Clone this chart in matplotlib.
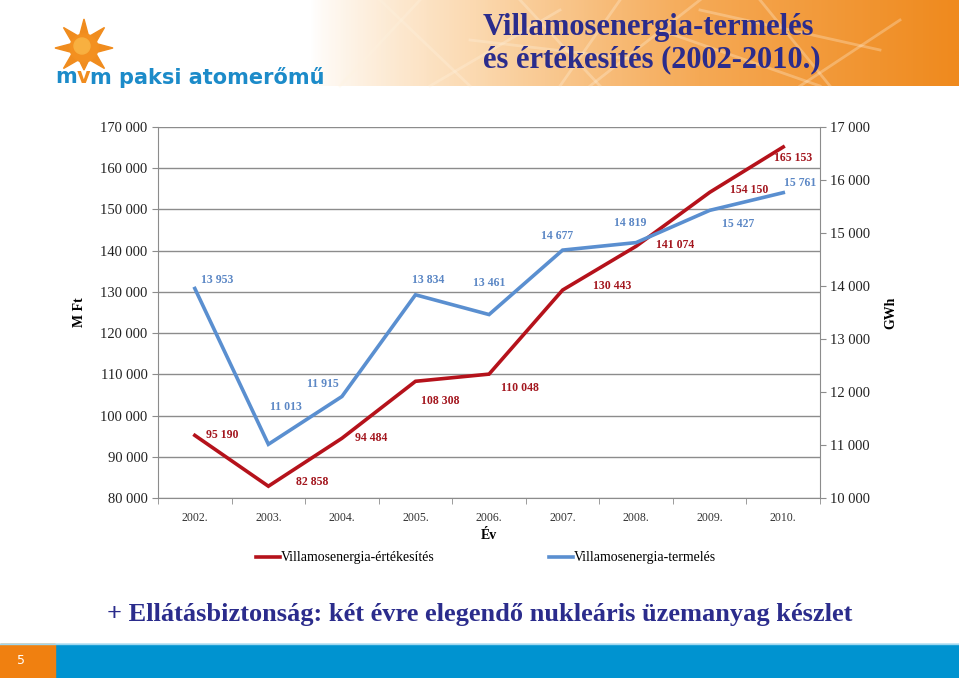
import matplotlib
matplotlib.use("Agg")
import matplotlib.pyplot as plt
import numpy as np
from matplotlib.patches import Rectangle, Circle, Polygon

# data
years = ["2002.", "2003.", "2004.", "2005.", "2006.", "2007.", "2008.", "2009.", "2010."]
sales_mft = [95190, 82858, 94484, 108308, 110048, 130443, 141074, 154150, 165153]
prod_gwh = [13953, 11013, 11915, 13834, 13461, 14677, 14819, 15427, 15761]

# label offsets (pixels) relative to each point
sales_off = [(27, 0), (44, 4), (29, 0), (25, -20), (31, -14), (50, 4), (39, 1), (39, 2), (10, -11)]
prod_off = [(22, 8), (18, 37), (-19, 12), (13, 15), (0, 32), (-6, 14), (-6, 20), (28, -14), (17, 10)]

RED = "#B5121B"
RED_TXT = "#A3161E"
BLUE = "#5A8FD0"
BLUE_TXT = "#5B87C5"
NAVY = "#2B2C8C"
LOGO_BLUE = "#1C8BC9"
SERIF = ["Liberation Serif", "DejaVu Serif"]


def fmt(v):
    return f"{v:,}".replace(",", " ")


fig = plt.figure(figsize=(9.59, 6.78), dpi=100)

# decoration layer in pixel coordinates
bg = fig.add_axes([0, 0, 1, 1], zorder=0)
bg.set_xlim(0, 959)
bg.set_ylim(678, 0)
bg.axis("off")

# header gradient band
grad = np.linspace(0, 1, 256)
cmap = matplotlib.colors.LinearSegmentedColormap.from_list(
    "hdr", ["#FFFFFF", "#FBD9B0", "#F5A955", "#EF8A1E"])
bg.imshow(grad[None, :] ** 0.8, extent=(310, 959, 86, 0), aspect="auto", cmap=cmap, zorder=0)
for x0, y0, x1, y1 in [(340, 86, 420, 0), (380, 0, 470, 86), (430, 86, 560, 10),
                       (520, 0, 600, 86), (590, 86, 700, 0), (660, 30, 820, 86),
                       (760, 0, 830, 86), (800, 86, 900, 20), (470, 40, 640, 60),
                       (700, 10, 880, 50), (560, 86, 620, 0)]:
    bg.plot([x0, x1], [y0, y1], color="#FFF3E0", alpha=0.3, lw=2, zorder=1)

# sun logo
cx, cy = 84, 48
for k in range(8):
    a = np.pi / 2 + k * np.pi / 4
    rl = 22 if k == 4 else 29
    tip = (cx + rl * np.cos(a), cy - rl * np.sin(a))
    l = (cx + 14 * np.cos(a - 0.3), cy - 14 * np.sin(a - 0.3))
    r = (cx + 14 * np.cos(a + 0.3), cy - 14 * np.sin(a + 0.3))
    bg.add_patch(Polygon([tip, l, r], closed=True, color="#F08C1E", zorder=2))
bg.add_patch(Circle((cx, cy), 14, color="#F39020", zorder=3))
bg.add_patch(Circle((cx - 2, cy - 2), 8, color="#F8B040", zorder=3))

# logo text, pieces laid out one after another
fig.canvas.draw()
renderer = fig.canvas.get_renderer()
xpos = 55
for piece, col in [("m", LOGO_BLUE), ("v", "#F08C1E"), ("m paksi atomerőmű", LOGO_BLUE)]:
    t = bg.text(xpos, 77, piece, color=col, fontsize=15, fontweight="bold",
                family="DejaVu Sans", va="center", ha="left", zorder=4)
    bb = t.get_window_extent(renderer)
    xpos += bb.width

# header title
bg.text(483, 27, "Villamosenergia-termelés", color=NAVY, fontsize=22,
        fontweight="bold", family=SERIF, va="center", ha="left", zorder=4)
bg.text(483, 60, "és értékesítés (2002-2010.)", color=NAVY, fontsize=22,
        fontweight="bold", family=SERIF, va="center", ha="left", zorder=4)

# bottom text and band
bg.text(480, 614, "+ Ellátásbiztonság: két évre elegendő nukleáris üzemanyag készlet",
        color=NAVY, fontsize=19, fontweight="bold", family=SERIF,
        va="center", ha="center", zorder=4)
bg.add_patch(Rectangle((0, 644), 959, 34, color="#0093D0", zorder=2))
bg.add_patch(Rectangle((0, 644), 55, 34, color="#F08010", zorder=3))
bg.plot([0, 959], [644, 644], color="#9FD8F0", lw=1, zorder=3)
bg.text(21, 661, "5", color="white", fontsize=9, va="center", ha="center", zorder=4)

# main chart
ax = fig.add_axes([0.1648, 0.2655, 0.6903, 0.5472], zorder=2)
ax.patch.set_alpha(0)
x = np.arange(len(years))
ax.plot(x, sales_mft, color=RED, lw=2.6, solid_joinstyle="miter", zorder=3,
        label="Villamosenergia-értékesítés")
ax.set_ylim(80000, 170000)
ax.set_xlim(-0.5, len(years) - 0.5)
ax.set_yticks(np.arange(80000, 170001, 10000))
ax.set_yticklabels([fmt(v) for v in range(80000, 170001, 10000)],
                   family=SERIF, fontsize=10.5, color="#222222")
ax.yaxis.grid(True, color="#8C8C8C", lw=1)
ax.set_axisbelow(True)
ax.set_xticks(x)
ax.set_xticklabels(years, family=SERIF, fontsize=8.5, color="#333333")
ax.set_xticks(np.arange(-0.5, len(years)), minor=True)
ax.tick_params(axis="x", which="major", length=0, pad=10)
ax.tick_params(axis="x", which="minor", length=4, color="#8C8C8C", direction="out")
ax.tick_params(axis="y", length=4, color="#8C8C8C", direction="out")
for s in ["top", "right"]:
    ax.spines[s].set_visible(False)
for s in ["left", "bottom"]:
    ax.spines[s].set_color("#8C8C8C")
ax.set_ylabel("M Ft", family=SERIF, fontsize=10, fontweight="bold", labelpad=10)
ax.set_xlabel("Év", family=SERIF, fontsize=10, fontweight="bold", labelpad=4)

for xi, v, (dx, dy) in zip(x, sales_mft, sales_off):
    ax.annotate(fmt(v), (xi, v), xytext=(dx, dy), textcoords="offset pixels",
                ha="center", va="center", fontsize=8.5, fontweight="bold",
                family=SERIF, color=RED_TXT, zorder=5)

ax2 = ax.twinx()
ax2.plot(x, prod_gwh, color=BLUE, lw=2.6, solid_joinstyle="miter", zorder=3,
         label="Villamosenergia-termelés")
ax2.set_ylim(10000, 17000)
ax2.set_yticks(np.arange(10000, 17001, 1000))
ax2.set_yticklabels([fmt(v) for v in range(10000, 17001, 1000)],
                    family=SERIF, fontsize=10.5, color="#222222")
ax2.tick_params(axis="y", length=4, color="#8C8C8C", direction="out")
for s in ["top", "left", "bottom"]:
    ax2.spines[s].set_visible(False)
ax2.spines["right"].set_color("#8C8C8C")
ax2.set_ylabel("GWh", family=SERIF, fontsize=10, fontweight="bold", labelpad=10)

for xi, v, (dx, dy) in zip(x, prod_gwh, prod_off):
    ax2.annotate(fmt(v), (xi, v), xytext=(dx, dy), textcoords="offset pixels",
                 ha="center", va="center", fontsize=8.5, fontweight="bold",
                 family=SERIF, color=BLUE_TXT, zorder=5)

h1, l1 = ax.get_legend_handles_labels()
h2, l2 = ax2.get_legend_handles_labels()
fig.legend(h1 + h2, l1 + l2, loc="center", bbox_to_anchor=(0.507, 0.177), ncol=2,
           frameon=False, prop={"family": SERIF, "size": 10}, handlelength=1.7,
           handletextpad=0.1, columnspacing=8.2)

fig.savefig("out.png", dpi=100)
